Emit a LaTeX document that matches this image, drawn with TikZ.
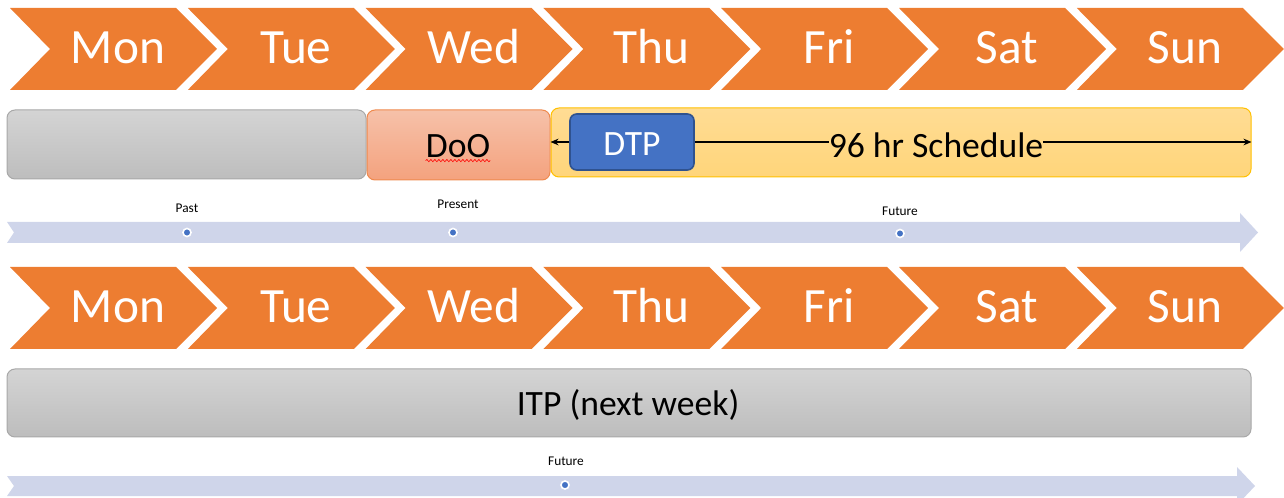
\documentclass[tikz,border=0pt]{standalone}
\usepackage{fontspec}
\setmainfont{Carlito}
\usetikzlibrary{arrows.meta,fit,decorations.pathmorphing}
\definecolor{orng}{HTML}{ED7D31}
\definecolor{lav}{HTML}{CFD5EA}
\definecolor{dotblue}{HTML}{4472C4}
\definecolor{dtpbd}{HTML}{2F528F}
\definecolor{grayT}{HTML}{D4D4D4}
\definecolor{grayB}{HTML}{BDBDBD}
\definecolor{graybd}{HTML}{A8A8A8}
\definecolor{dooT}{HTML}{F6C1A9}
\definecolor{dooB}{HTML}{F4A27E}
\definecolor{dooBd}{HTML}{EF8A4E}
\definecolor{schedT}{HTML}{FFDC94}
\definecolor{schedB}{HTML}{FFD57A}
\definecolor{schedBd}{HTML}{FFC000}
\begin{document}
\begin{tikzpicture}[x=0.75pt,y=-0.75pt,
  daytext/.style={text=white,font=\fontsize{37}{40}\selectfont,anchor=base,inner sep=0pt},
  bodytext/.style={font=\fontsize{26.7}{30}\selectfont,inner sep=0pt},
  smalltext/.style={font=\fontsize{10}{12}\selectfont,inner sep=0pt},
  graybox/.style={rounded corners=6pt,draw=graybd,top color=grayT,bottom color=grayB,line width=0.75pt,inner sep=0pt},
  doobox/.style={rounded corners=6pt,draw=dooBd,top color=dooT,bottom color=dooB,line width=0.75pt,inner sep=0pt},
  schedbox/.style={rounded corners=6pt,draw=schedBd,top color=schedT,bottom color=schedB,line width=0.75pt,inner sep=0pt},
  dtpbox/.style={rounded corners=5pt,draw=dtpbd,fill=dotblue,line width=1.2pt,inner sep=0pt},
  conn/.style={draw=black,line width=1.4pt,-{Stealth[length=6pt,width=5pt]}},
  dotmark/.style={circle,fill=dotblue,draw=white,line width=1.2pt,minimum size=6pt,inner sep=0pt}
]
\useasboundingbox (0,0) rectangle (1284,498);

% day chevrons
\foreach \d [count=\i from 0] in {Mon,Tue,Wed,Thu,Fri,Sat,Sun} {
  \pgfmathsetmacro\xa{10+177.8*\i}
  \fill[orng] (\xa,8) -- ++(166,0) -- ++(41,41) -- ++(-41,41) -- ++(-166,0) -- ++(40,-41) -- cycle;
  \node[daytext] (top\d) at (\xa+108,64) {\d};
  \fill[orng] (\xa,267) -- ++(166,0) -- ++(41,41) -- ++(-41,41) -- ++(-166,0) -- ++(40,-41) -- cycle;
  \node[daytext] (bot\d) at (\xa+108,323) {\d};
}

% first row of boxes
\node[graybox,fit={(7,110)(366,179)}] (past) {};
\node[doobox,fit={(367,110)(550,180)}] (doo) {};
\node[bodytext] (dootxt) at (458,146) {DoO};
\draw[red,line width=0.5pt,decorate,decoration={snake,amplitude=0.8pt,segment length=3pt}]
  ([yshift=-2pt]dootxt.south west) -- ([yshift=-2pt]dootxt.south east);
\node[schedbox,fit={(551,108)(1251,177)}] (sched) {};
\node[dtpbox,fit={(570,114)(694,170)}] (dtp) {};
\node[bodytext,text=white] (dtptxt) at (632,144) {DTP};
\node[bodytext] (hrs) at (936,145) {96 hr Schedule};
\draw[conn] (dtp.west) -- (dtp.west -| sched.west);
\draw[conn,-] (dtp.east) -- (dtp.east -| hrs.west);
\draw[conn] (hrs.east |- dtp.east) -- (dtp.east -| sched.east);

% first timeline
\fill[lav] (7,222) -- (1240,222) -- (1240,213) -- (1258,232.5) -- (1240,252) -- (1240,243) -- (7,243) -- (14,232.5) -- cycle;
\node[dotmark] (pastdot) at (187,232.5) {};
\node[dotmark] (presdot) at (453,232.5) {};
\node[dotmark] (futdot) at (900,233.5) {};
\node[smalltext] (pastlbl) at (187,208) {Past};
\node[smalltext] (preslbl) at (458,204) {Present};
\node[smalltext] (futlbl) at (900,211) {Future};

% second row
\node[graybox,fit={(7,369)(1251,437)}] (itp) {};
\node[bodytext] (itptxt) at (628,405) {ITP (next week)};

% second timeline
\fill[lav] (7,476) -- (1237,476) -- (1237,467) -- (1255,486) -- (1237,505) -- (1237,496) -- (7,496) -- (14,486) -- cycle;
\node[dotmark] (futdot2) at (565,485) {};
\node[smalltext] (futlbl2) at (566,461) {Future};
\end{tikzpicture}
\end{document}
